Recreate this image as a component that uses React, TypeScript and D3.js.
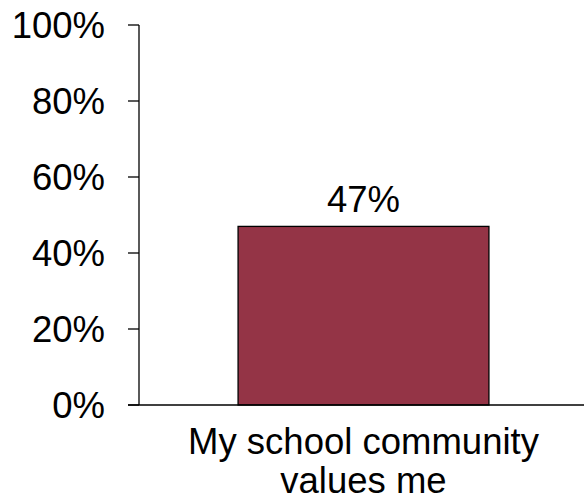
import React from "react";
import * as d3 from "d3";

const categories: string[][] = [["My school community", "values me"]];
const values: number[] = [0.47];
const yTicks: number[] = [0, 0.2, 0.4, 0.6, 0.8, 1.0];

const W = 584;
const H = 501;
const axisX = 139;
const top = 25;
const bottom = 405;
const FONT = "'Liberation Sans', Arial, sans-serif";

export default function App() {
  const y = d3.scaleLinear().domain([0, 1]).range([bottom, top]);
  const x = d3
    .scaleBand<number>()
    .domain(values.map((_, i) => i))
    .range([141, 586])
    .padding(0.279);
  const fmt = d3.format(".0%");

  return (
    <svg
      width={W}
      height={H}
      style={{ position: "absolute", left: 0, top: 0, background: "#fff" }}
      fontFamily={FONT}
    >
      {values.map((v, i) => (
        <g key={i}>
          <rect
            x={x(i)!}
            y={y(v)}
            width={x.bandwidth()}
            height={y(0) - y(v)}
            fill="#943446"
            stroke="#000"
            strokeWidth={1.3}
          />
          <text
            x={x(i)! + x.bandwidth() / 2}
            y={y(v) - 14}
            textAnchor="middle"
            fontSize={36.5}
            fill="#000"
          >
            {fmt(v)}
          </text>
          {categories[i].map((line, j) => (
            <text
              key={j}
              x={x(i)! + x.bandwidth() / 2}
              y={454 + j * 39}
              textAnchor="middle"
              fontSize={36.5}
              fill="#000"
            >
              {line}
            </text>
          ))}
        </g>
      ))}
      <line x1={axisX} x2={axisX} y1={y(1)} y2={y(0)} stroke="#000" strokeWidth={1.3} />
      {yTicks.map((t) => (
        <g key={t}>
          <line x1={128} x2={axisX} y1={y(t)} y2={y(t)} stroke="#000" strokeWidth={1.3} />
          <text x={105} y={y(t) + 13} textAnchor="end" fontSize={36.5} fill="#000">
            {fmt(t)}
          </text>
        </g>
      ))}
      <line x1={128} x2={W} y1={y(0)} y2={y(0)} stroke="#000" strokeWidth={1.3} />
    </svg>
  );
}
